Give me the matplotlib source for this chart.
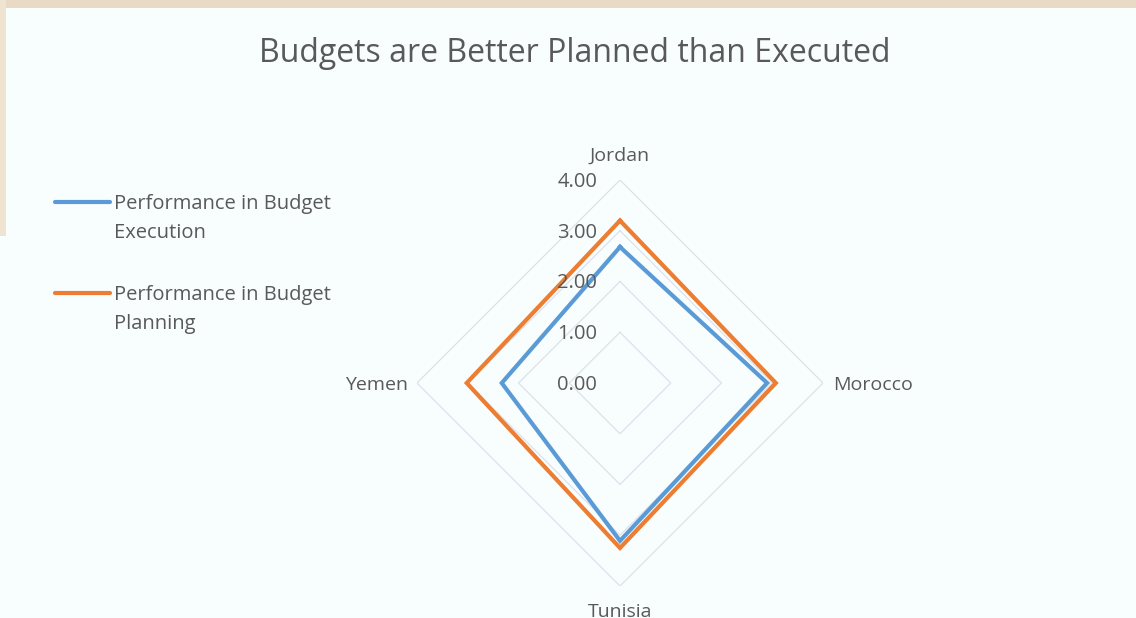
import numpy as np
import matplotlib
matplotlib.use("Agg")
import matplotlib.pyplot as plt
from matplotlib.patches import Rectangle
from matplotlib.lines import Line2D
from matplotlib.transforms import offset_copy

plt.rcParams['font.family'] = ['Open Sans', 'DejaVu Sans']

categories = ["Jordan", "Morocco", "Tunisia", "Yemen"]
execution = [2.68, 2.90, 3.11, 2.33]
planning = [3.20, 3.07, 3.25, 3.02]
levels = [0.0, 1.0, 2.0, 3.0, 4.0]
level_labels = ["0.00", "1.00", "2.00", "3.00", "4.00"]
series_names = [["Performance in Budget", "Execution"], ["Performance in Budget", "Planning"]]
series_colors = ["#5B9BD5", "#ED7D31"]

W, H = 1136, 618
fig = plt.figure(figsize=(W / 100, H / 100), dpi=100)
fig.patch.set_facecolor("#F8FDFE")
# background picture edges (top strip and upper-left strip)
fig.patches.append(Rectangle((0, 1 - 8 / H), 1, 8 / H, transform=fig.transFigure,
                             facecolor="#E9DAC6", edgecolor="none", zorder=-5))
fig.patches.append(Rectangle((0, 1 - 236 / H), 6 / W, 236 / H, transform=fig.transFigure,
                             facecolor="#EFE3D2", edgecolor="none", zorder=-5))

cx, cy, R = 620, 383, 203
ax = fig.add_axes([(cx - R) / W, (H - cy - R) / H, 2 * R / W, 2 * R / H], projection="polar")
ax.set_zorder(2)
ax.set_facecolor("none")
ax.patch.set_alpha(0)
ax.set_theta_offset(np.pi / 2)
ax.set_theta_direction(-1)
ax.set_ylim(0, 4)
ax.grid(False)
ax.spines["polar"].set_visible(False)
ax.set_xticks([])
ax.set_yticks([])

n = len(categories)
angles = np.arange(n) * 2 * np.pi / n
closed = np.concatenate([angles, angles[:1]])

grid_col = "#DDE1EE"
for lv in levels[1:]:
    ax.plot(closed, [lv] * (n + 1), color=grid_col, lw=0.9, zorder=1)

for vals, col in zip([execution, planning], series_colors):
    ax.plot(closed, vals + vals[:1], color=col, lw=3.0, zorder=3, solid_joinstyle="miter")

txt_col = "#595959"
lab_tr = offset_copy(ax.transData, fig=fig, x=-23, y=-2, units="dots")
for lv, lb in zip(levels, level_labels):
    ax.text(0, lv, lb, transform=lab_tr, ha="right", va="center", fontsize=14.5,
            color=txt_col, zorder=4)

offsets = [(0, 24, "center", "center"), (10, -2, "left", "center"),
           (0, -26, "center", "center"), (-9, -2, "right", "center")]
for a, c, (dx, dy, ha, va) in zip(angles, categories, offsets):
    tr = offset_copy(ax.transData, fig=fig, x=dx, y=dy, units="dots")
    ax.text(a, levels[-1], c, transform=tr, ha=ha, va=va, fontsize=14, color=txt_col)

fig.text(575 / W, 1 - 53 / H, "Budgets are Better Planned than Executed", ha="center", va="center",
         fontsize=23, color=txt_col)

# legend (first text line aligned with the line handle, as in the original)
leg_y = [202, 293]
for (l1, l2), col, y in zip(series_names, series_colors, leg_y):
    fig.add_artist(Line2D([55 / W, 110 / W], [1 - y / H, 1 - y / H], transform=fig.transFigure,
                          color=col, lw=3.0, solid_capstyle="round"))
    fig.text(114 / W, 1 - (y + 2) / H, l1, ha="left", va="center", fontsize=14.5, color=txt_col)
    fig.text(114 / W, 1 - (y + 31) / H, l2, ha="left", va="center", fontsize=14.5, color=txt_col)

fig.savefig("out.png", dpi=100, facecolor=fig.get_facecolor())
